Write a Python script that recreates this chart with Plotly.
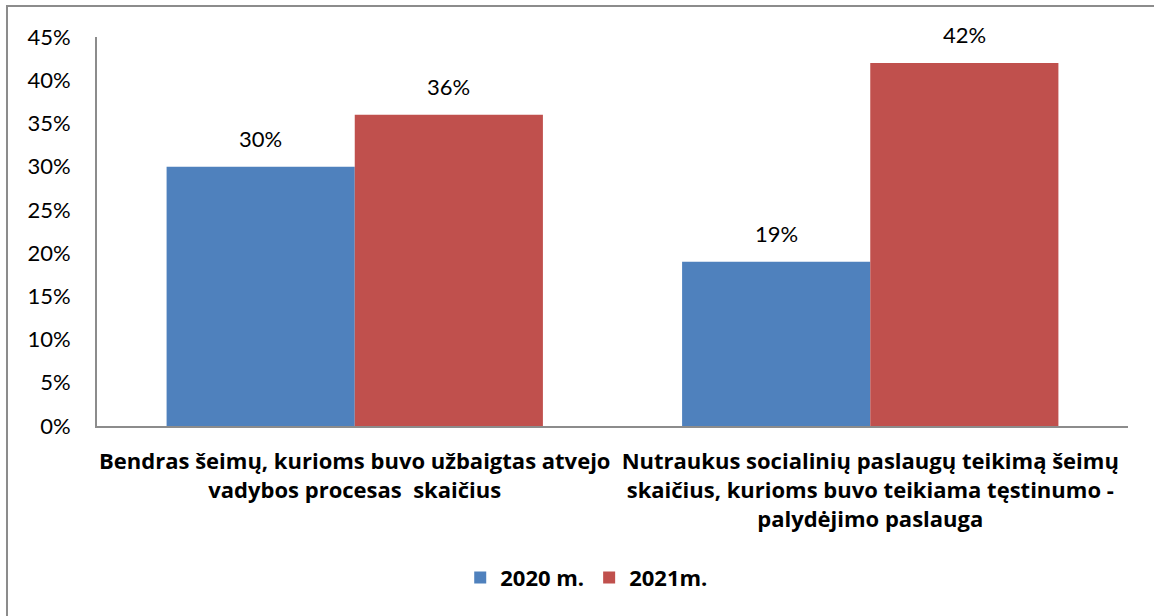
import plotly.graph_objects as go

categories = [
    "Bendras šeimų, kurioms buvo užbaigtas atvejo<br>vadybos procesas  skaičius",
    "Nutraukus socialinių paslaugų teikimą šeimų<br>skaičius, kurioms buvo teikiama tęstinumo -<br>palydėjimo paslauga",
]
series_names = ["2020 m.", "2021m."]
values_2020 = [0.30, 0.19]
values_2021 = [0.36, 0.42]
colors = ["#4F81BD", "#C0504D"]

font_family = "Lato"
bold_family = "Open Sans"
bargap = 0.27

fig = go.Figure()
all_series = [values_2020, values_2021]
for name, vals, col in zip(series_names, all_series, colors):
    fig.add_trace(go.Bar(
        x=categories, y=vals, name=name,
        marker=dict(color=col, line=dict(width=0)),
    ))

# data labels above bars (offset like the original chart)
half = (1 - bargap) / 4
for k, vals in enumerate(all_series):
    off = -half if k == 0 else half
    for i, v in enumerate(vals):
        fig.add_annotation(x=i + off, y=v, text=f"{v:.0%}", showarrow=False,
                           yanchor="middle", yshift=28,
                           font=dict(size=22, color="#000000", family=font_family))

# outer chart border
fig.add_shape(type="rect", xref="paper", yref="paper",
              x0=-0.0873, x1=1.2, y0=-0.6, y1=1.0797,
              line=dict(color="#8c8c8c", width=2), fillcolor="rgba(0,0,0,0)")

fig.update_layout(
    width=1154, height=616,
    margin=dict(l=97, r=26, t=37, b=190),
    paper_bgcolor="white", plot_bgcolor="white",
    barmode="group", bargap=bargap, bargroupgap=0,
    font=dict(family=font_family, color="#000000"),
    showlegend=True,
    legend=dict(orientation="h", x=0.475, xanchor="center", y=-0.39, yanchor="middle",
                font=dict(size=22, family=bold_family, weight="bold"),
                itemwidth=30, traceorder="normal"),
    yaxis=dict(range=[0, 0.45], dtick=0.05, tickformat=".0%", showgrid=False,
               showline=True, linecolor="#8c8c8c", linewidth=2, zeroline=False,
               ticks="", tickfont=dict(size=22, family=font_family), ticklabelstandoff=20),
    xaxis=dict(showline=True, linecolor="#8c8c8c", linewidth=2, ticks="",
               tickfont=dict(size=22, family=bold_family, weight="bold"), tickangle=0,
               ticklabelstandoff=15),
)

fig.write_html("out.html", post_script="document.body.style.margin='0';",
               config={"displayModeBar": False})
